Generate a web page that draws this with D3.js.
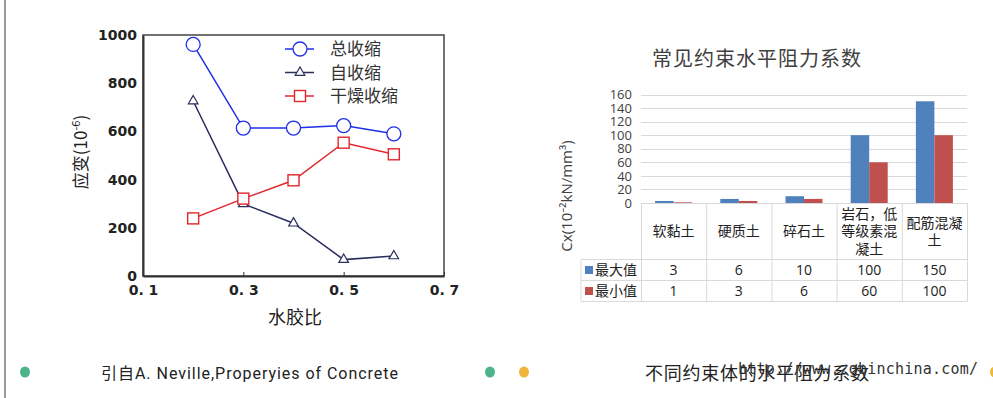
<!DOCTYPE html>
<html>
<head>
<meta charset="utf-8">
<script src="https://cdn.jsdelivr.net/npm/d3@7"></script>
<style>
  body { margin: 0; background: #fff; }
  svg { display: block; }
  .axis path, .axis line { stroke: #333; }
</style>
</head>
<body>
<svg id="chart" width="993" height="398"></svg>
<script>
// ---- left chart data (shrinkage vs water-binder ratio)
const ratios = [0.2, 0.3, 0.4, 0.5, 0.6]
const totalShrink = [961, 614, 614, 624, 590]
const autoShrink = [726, 299, 219, 68, 83]
const dryShrink = [239, 321, 397, 553, 505]
const leftYTicks = [0, 200, 400, 600, 800, 1000]
const leftXTicks = [0.1, 0.3, 0.5, 0.7]
const seriesNames = ['总收缩', '自收缩', '干燥收缩']

// ---- right chart data (restraint coefficients)
const soilTypes = ['软黏土', '硬质土', '碎石土', '岩石，低等级素混凝土', '配筋混凝土']
const soilLines = [['软黏土'], ['硬质土'], ['碎石土'], ['岩石，低', '等级素混', '凝土'], ['配筋混凝', '土']]
const maxValues = [3, 6, 10, 100, 150]
const minValues = [1, 3, 6, 60, 100]
const rightYTicks = [0, 20, 40, 60, 80, 100, 120, 140, 160]
const rowNames = ['最大值', '最小值']

const svg = d3.select('#chart')
const cjk = "'Noto Sans CJK SC', 'Noto Sans', sans-serif"

// page frame line on the left
svg.append('line')
  .attr('x1', 5).attr('x2', 5).attr('y1', 0).attr('y2', 398)
  .attr('stroke', '#9a9a9a').attr('stroke-width', 2)

// ================= LEFT CHART =================
const xL = d3.scaleLinear().domain([0.1, 0.7]).range([143, 444])
const yL = d3.scaleLinear().domain([0, 1000]).range([276, 35])

const left = svg.append('g')

left.append('rect')
  .attr('x', xL(0.1)).attr('y', yL(1000))
  .attr('width', xL(0.7) - xL(0.1)).attr('height', yL(0) - yL(1000))
  .attr('fill', 'none').attr('stroke', '#444').attr('stroke-width', 1.5)

const yAxisL = d3.axisLeft(yL).tickValues(leftYTicks).tickSize(0).tickPadding(6)
  .tickFormat(d3.format('d'))
left.append('g')
  .attr('class', 'axis')
  .attr('transform', `translate(${xL(0.1)},0)`)
  .call(yAxisL)
  .call(g => g.select('.domain').attr('stroke-width', 2))
  .selectAll('text')
  .attr('font-family', "'DejaVu Sans', sans-serif")
  .attr('font-weight', 'bold')
  .attr('font-size', 14)
  .attr('fill', '#222')

const xAxisL = d3.axisBottom(xL).tickValues(leftXTicks).tickSizeInner(-4).tickSizeOuter(0).tickPadding(9)
  .tickFormat(d => d3.format('.1f')(d).replace('.', '. '))
left.append('g')
  .attr('class', 'axis')
  .attr('transform', `translate(0,${yL(0)})`)
  .call(xAxisL)
  .call(g => g.select('.domain').attr('stroke-width', 2))
  .selectAll('text')
  .attr('font-family', "'DejaVu Sans', sans-serif")
  .attr('font-weight', 'bold')
  .attr('font-size', 14)
  .attr('fill', '#222')

// axis titles
const yTitle = left.append('text')
  .attr('transform', 'translate(87,152) rotate(-90)')
  .attr('text-anchor', 'middle')
  .attr('font-family', cjk)
  .attr('font-size', 17)
  .attr('fill', '#222')
yTitle.append('tspan').text('应变(10')
yTitle.append('tspan').text('-6').attr('font-size', 11).attr('dy', -7)
yTitle.append('tspan').text(')').attr('dy', 7)

left.append('text')
  .attr('x', 295).attr('y', 324)
  .attr('text-anchor', 'middle')
  .attr('font-family', cjk)
  .attr('font-size', 18)
  .attr('fill', '#222')
  .text('水胶比')

const seriesL = [
  { name: seriesNames[0], values: totalShrink, color: '#1f2ee8', shape: 'circle' },
  { name: seriesNames[1], values: autoShrink, color: '#2a2d5c', shape: 'triangle' },
  { name: seriesNames[2], values: dryShrink, color: '#e2262b', shape: 'square' }
]

const lineL = d3.line().x(d => xL(d.x)).y(d => yL(d.y))

function drawMarker(g, shape, x, y, color) {
  if (shape === 'circle') {
    g.append('circle').attr('cx', x).attr('cy', y).attr('r', 7)
      .attr('fill', '#fff').attr('stroke', color).attr('stroke-width', 1.3)
  } else if (shape === 'triangle') {
    g.append('path')
      .attr('d', d3.symbol().type(d3.symbolTriangle).size(40)())
      .attr('transform', `translate(${x},${y})`)
      .attr('fill', '#fff').attr('stroke', color).attr('stroke-width', 1.2)
  } else {
    g.append('rect').attr('x', x - 5.5).attr('y', y - 5.5).attr('width', 11).attr('height', 11)
      .attr('fill', '#fff').attr('stroke', color).attr('stroke-width', 1.4)
  }
}

seriesL.forEach(s => {
  const pts = ratios.map((r, i) => ({ x: r, y: s.values[i] }))
  left.append('path')
    .datum(pts)
    .attr('d', lineL)
    .attr('fill', 'none')
    .attr('stroke', s.color)
    .attr('stroke-width', 1.5)
  pts.forEach(p => drawMarker(left, s.shape, xL(p.x), yL(p.y), s.color))
})

// legend
seriesL.forEach((s, i) => {
  const ly = 49 + i * 23.5
  left.append('line')
    .attr('x1', 285).attr('x2', 314).attr('y1', ly).attr('y2', ly)
    .attr('stroke', s.color).attr('stroke-width', 1.5)
  drawMarker(left, s.shape, 300, ly, s.color)
  left.append('text')
    .attr('x', 330).attr('y', ly)
    .attr('dy', '0.36em')
    .attr('font-family', cjk)
    .attr('font-size', 17)
    .attr('fill', '#333')
    .text(s.name)
})

// ================= RIGHT CHART =================
const right = svg.append('g')
const plotL = 641, plotR = 967
const xR = d3.scaleBand().domain(soilTypes).range([plotL, plotR])
const xInner = d3.scaleBand().domain(rowNames).range([xR.bandwidth() / 2 - 18.5, xR.bandwidth() / 2 + 18.5])
const yR = d3.scaleLinear().domain([0, 160]).range([203, 94.5])
const colors = ['#4f81bd', '#c0504d']

right.append('text')
  .attr('x', 757).attr('y', 66)
  .attr('text-anchor', 'middle')
  .attr('font-family', cjk)
  .attr('font-size', 20)
  .attr('letter-spacing', 1)
  .attr('fill', '#404040')
  .text('常见约束水平阻力系数')

// grid
right.append('g')
  .selectAll('line')
  .data(rightYTicks)
  .join('line')
  .attr('x1', plotL).attr('x2', plotR)
  .attr('y1', d => Math.round(yR(d)) + 0.5).attr('y2', d => Math.round(yR(d)) + 0.5)
  .attr('stroke', '#d9d9d9')

const yAxisR = d3.axisLeft(yR).tickValues(rightYTicks).tickSize(0).tickPadding(9)
right.append('g')
  .attr('transform', `translate(${plotL},0)`)
  .call(yAxisR)
  .call(g => g.select('.domain').remove())
  .selectAll('text')
  .attr('font-family', "'Open Sans', 'Noto Sans', sans-serif")
  .attr('font-size', 13)
  .attr('fill', '#404040')

right.append('text')
  .attr('transform', 'translate(572,196) rotate(-90)')
  .attr('text-anchor', 'middle')
  .attr('font-family', "'Open Sans', 'Noto Sans', sans-serif")
  .attr('font-size', 15)
  .attr('fill', '#404040')
  .text('Cx(10⁻²kN/mm³)')

// bars
const seriesR = [maxValues, minValues]
seriesR.forEach((vals, si) => {
  right.append('g')
    .selectAll('rect')
    .data(vals)
    .join('rect')
    .attr('x', (d, i) => xR(soilTypes[i]) + xInner(rowNames[si]))
    .attr('width', xInner.bandwidth())
    .attr('y', d => yR(d))
    .attr('height', d => yR(0) - yR(d))
    .attr('fill', colors[si])
})

// data table
const tTop = 203, headBottom = 259.5, rowH = 21
const tBottom = headBottom + rowH * 2
const legendL = 581
const tg = right.append('g').attr('stroke', '#d9d9d9').attr('fill', 'none')
tg.append('line').attr('x1', plotL).attr('x2', plotR).attr('y1', tTop + 0.5).attr('y2', tTop + 0.5)
;[headBottom, headBottom + rowH, tBottom].forEach(y => {
  tg.append('line').attr('x1', legendL).attr('x2', plotR).attr('y1', y).attr('y2', y)
})
tg.append('line').attr('x1', legendL).attr('x2', legendL).attr('y1', headBottom).attr('y2', tBottom)
xR.domain().concat([null]).forEach(c => {
  const x = c === null ? plotR : xR(c)
  tg.append('line').attr('x1', x + 0.5).attr('x2', x + 0.5).attr('y1', tTop).attr('y2', tBottom)
})

// header labels
soilTypes.forEach((c, i) => {
  const lines = soilLines[i]
  const cx = xR(c) + xR.bandwidth() / 2
  const mid = (tTop + headBottom) / 2
  lines.forEach((t, j) => {
    right.append('text')
      .attr('x', cx)
      .attr('y', mid + (j - (lines.length - 1) / 2) * 17.5)
      .attr('dy', '0.36em')
      .attr('text-anchor', 'middle')
      .attr('font-family', cjk)
      .attr('font-size', 14)
      .attr('fill', '#222')
      .text(t)
  })
})

// value rows
seriesR.forEach((vals, si) => {
  const cy = headBottom + rowH * si + rowH / 2
  right.append('rect')
    .attr('x', 585).attr('y', cy - 4).attr('width', 8).attr('height', 8)
    .attr('fill', colors[si])
  right.append('text')
    .attr('x', 595).attr('y', cy).attr('dy', '0.36em')
    .attr('font-family', cjk).attr('font-size', 14).attr('fill', '#222')
    .text(rowNames[si])
  vals.forEach((v, i) => {
    right.append('text')
      .attr('x', xR(soilTypes[i]) + xR.bandwidth() / 2)
      .attr('y', cy).attr('dy', '0.36em')
      .attr('text-anchor', 'middle')
      .attr('font-family', "'Open Sans', 'Noto Sans', sans-serif")
      .attr('font-size', 14)
      .attr('fill', '#222')
      .text(v)
  })
})

// ================= CAPTIONS =================
const dots = [
  { x: 25, color: '#4db38a' },
  { x: 490, color: '#4db38a' },
  { x: 524, color: '#efb63a' },
  { x: 995, color: '#efb63a' }
]
svg.append('g')
  .selectAll('ellipse')
  .data(dots)
  .join('ellipse')
  .attr('cx', d => d.x).attr('cy', 372)
  .attr('rx', 5).attr('ry', 5.5)
  .attr('fill', d => d.color)

svg.append('text')
  .attr('x', 101).attr('y', 379)
  .attr('font-family', "'Roboto', 'Noto Sans CJK SC', sans-serif")
  .attr('font-size', 16)
  .attr('fill', '#222')
  .attr('textLength', 297)
  .text('引自A. Neville,Properyies of Concrete')

svg.append('text')
  .attr('x', 645).attr('y', 380)
  .attr('font-family', cjk)
  .attr('font-size', 18)
  .attr('fill', '#222')
  .attr('textLength', 224)
  .text('不同约束体的水平阻力系数')

svg.append('text')
  .attr('x', 738).attr('y', 374)
  .attr('font-family', "'DejaVu Sans Mono', monospace")
  .attr('font-size', 15)
  .attr('fill', '#333')
  .attr('textLength', 240)
  .text('http://www.zgbinchina.com/')
</script>
</body>
</html>
